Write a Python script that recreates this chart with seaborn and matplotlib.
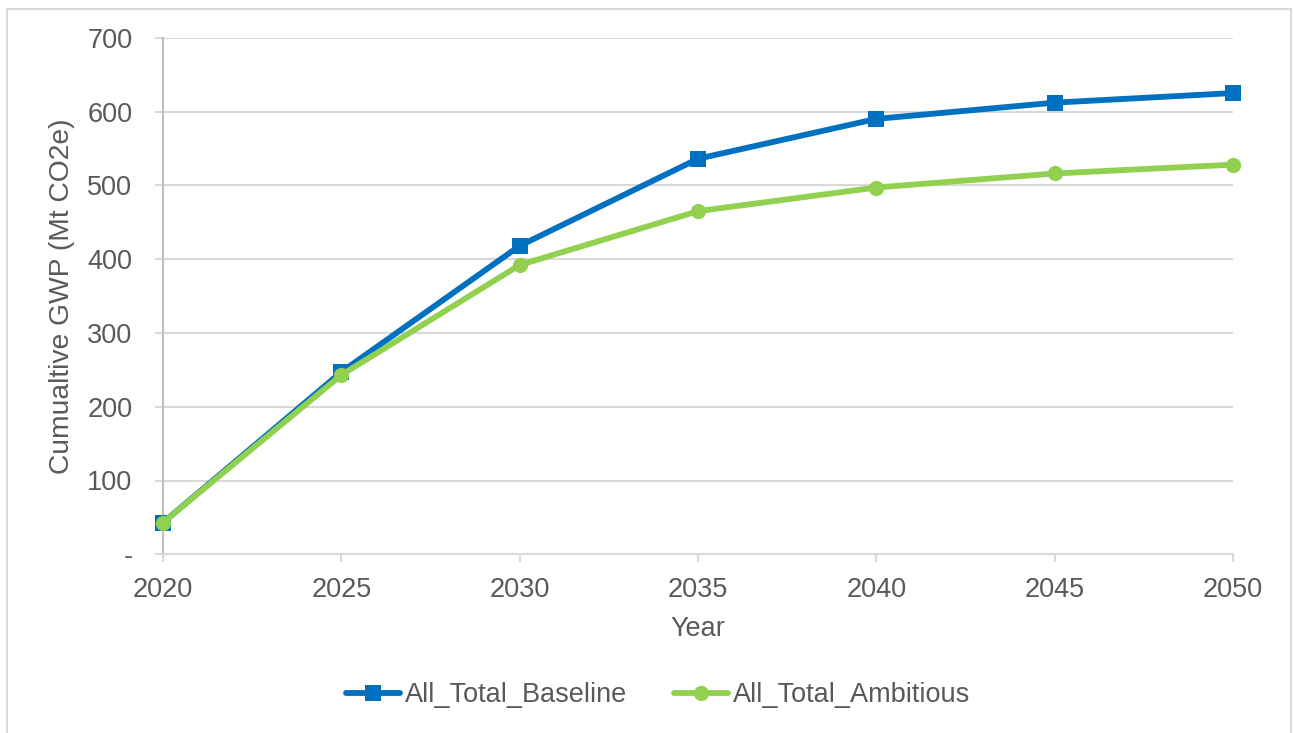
import matplotlib
matplotlib.use("Agg")
import matplotlib.pyplot as plt
from matplotlib.patches import Rectangle
from matplotlib.lines import Line2D
import seaborn as sns
import pandas as pd

# Cumulative GWP by scenario, Mt CO2e
years = [2020, 2025, 2030, 2035, 2040, 2045, 2050]
baseline = [43, 247, 418, 536, 590, 612, 625]
ambitious = [43, 243, 392, 465, 497, 516, 528]
series_names = ["All_Total_Baseline", "All_Total_Ambitious"]
y_ticks = [0, 100, 200, 300, 400, 500, 600, 700]
y_tick_labels = ["-", "100", "200", "300", "400", "500", "600", "700"]

df = pd.DataFrame({
    "Year": years * 2,
    "GWP": baseline + ambitious,
    "Scenario": [series_names[0]] * len(years) + [series_names[1]] * len(years),
})

sns.set_theme(style="white")
plt.rcParams["font.family"] = ["Liberation Sans", "DejaVu Sans"]

TEXT = "#595959"
GRID = "#D9D9D9"
BLUE = "#0070C0"
GREEN = "#92D050"
FS = 19.5
LW = 4.2
MS = 11

fig = plt.figure(figsize=(12.93, 7.33), dpi=100)
W, H = 1293, 733
ax = fig.add_axes([163 / W, 1 - 554.3 / H, (1233 - 163) / W, (554.3 - 37.7) / H])

palette = {series_names[0]: BLUE, series_names[1]: GREEN}
markers = {series_names[0]: "s", series_names[1]: "o"}
sns.lineplot(data=df, x="Year", y="GWP", hue="Scenario", style="Scenario",
             palette=palette, markers=markers, dashes=False, linewidth=LW,
             markersize=MS, markeredgewidth=0, ax=ax, legend=False, zorder=3)
for line in ax.get_lines():
    line.set_clip_on(False)

ax.set_xlim(2020, 2050)
ax.set_ylim(0, 700)
ax.set_xticks(years)
ax.set_xticklabels([str(y) for y in years])
ax.set_yticks(y_ticks)
ax.set_yticklabels(y_tick_labels)

ax.grid(axis="y", color=GRID, linewidth=1.5, zorder=0)
ax.grid(axis="x", visible=False)
for side in ["top", "right"]:
    ax.spines[side].set_visible(False)
ax.spines["left"].set_color("#BFBFBF")
ax.spines["left"].set_linewidth(1.5)
ax.spines["bottom"].set_color(GRID)
ax.spines["bottom"].set_linewidth(1.5)

ax.tick_params(axis="both", colors=GRID, labelcolor=TEXT, labelsize=FS,
               length=6, width=1.5, direction="out")
ax.tick_params(axis="y", pad=16, left=True)
ax.tick_params(axis="x", pad=10, bottom=True)

ax.set_xlabel("Year", fontsize=FS, color=TEXT, labelpad=10)
ax.set_ylabel("Cumualtive GWP (Mt CO2e)", fontsize=20.3, color=TEXT, labelpad=9)

handles = [
    Line2D([], [], color=BLUE, lw=LW, marker="s", markersize=MS, markeredgewidth=0),
    Line2D([], [], color=GREEN, lw=LW, marker="o", markersize=MS, markeredgewidth=0),
]
fig.legend(handles, series_names, loc="center", bbox_to_anchor=(658 / W, 1 - 695 / H),
           ncol=2, frameon=False, fontsize=FS, labelcolor=TEXT,
           handlelength=2.0, handletextpad=0.2, columnspacing=1.7)

fig.patches.append(Rectangle((7 / W, -0.01), (1291 - 7) / W, 1 - 9 / H + 0.01,
                             transform=fig.transFigure, fill=False,
                             edgecolor=GRID, linewidth=1.5))

fig.savefig("out.png", dpi=100, facecolor="white")
